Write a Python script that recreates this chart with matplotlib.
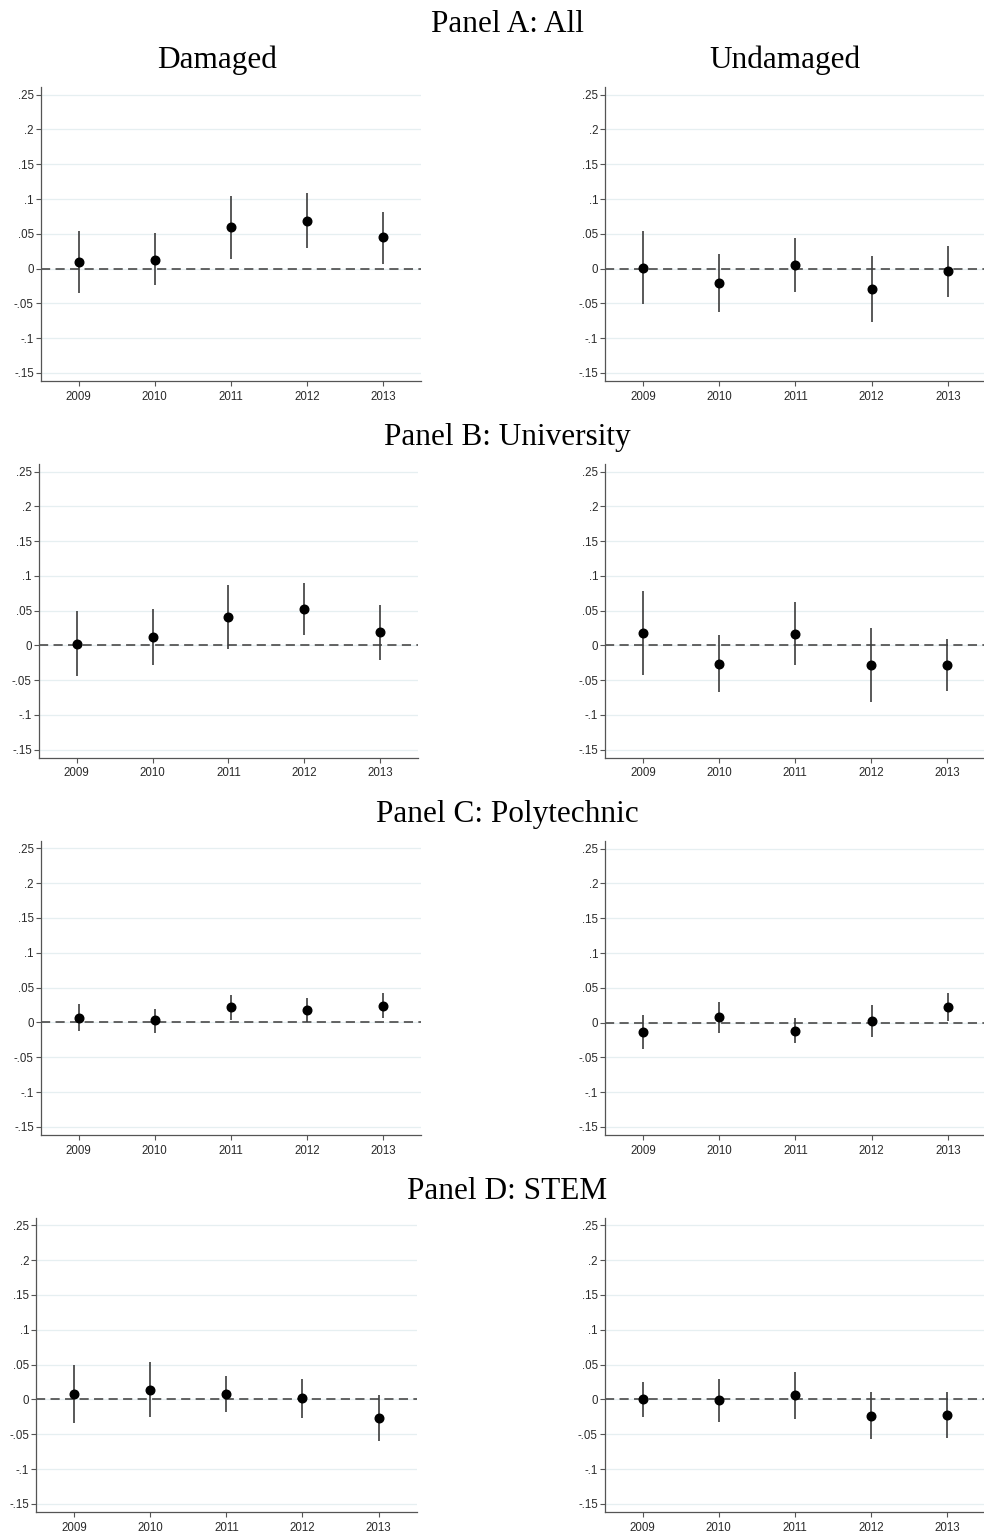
import matplotlib
matplotlib.use('Agg')
import matplotlib.pyplot as plt

# event-study coefficients with 95% confidence bounds
years = [2009, 2010, 2011, 2012, 2013]

all_dmg_b = [0.009, 0.013, 0.0595, 0.069, 0.045]
all_dmg_lo = [-0.035, -0.024, 0.014, 0.030, 0.007]
all_dmg_hi = [0.054, 0.0505, 0.104, 0.108, 0.082]

all_und_b = [0.0015, -0.021, 0.005, -0.029, -0.004]
all_und_lo = [-0.051, -0.062, -0.033, -0.076, -0.041]
all_und_hi = [0.054, 0.0205, 0.044, 0.0185, 0.033]

uni_dmg_b = [0.0024, 0.012, 0.041, 0.052, 0.019]
uni_dmg_lo = [-0.044, -0.028, -0.005, 0.015, -0.0205]
uni_dmg_hi = [0.0495, 0.052, 0.087, 0.0895, 0.058]

uni_und_b = [0.018, -0.026, 0.0167, -0.0286, -0.0286]
uni_und_lo = [-0.042, -0.0676, -0.0286, -0.0814, -0.066]
uni_und_hi = [0.0776, 0.0148, 0.0624, 0.0248, 0.009]

poly_dmg_b = [0.0067, 0.0029, 0.0219, 0.0186, 0.0243]
poly_dmg_lo = [-0.0129, -0.0148, 0.0038, 0.001, 0.0067]
poly_dmg_hi = [0.0267, 0.020, 0.040, 0.0357, 0.042]

poly_und_b = [-0.0133, 0.0076, -0.0114, 0.0019, 0.0224]
poly_und_lo = [-0.0376, -0.0143, -0.030, -0.021, 0.0029]
poly_und_hi = [0.011, 0.029, 0.0067, 0.0248, 0.042]

stem_dmg_b = [0.0076, 0.0138, 0.0081, 0.0014, -0.0262]
stem_dmg_lo = [-0.0338, -0.0248, -0.0176, -0.0267, -0.059]
stem_dmg_hi = [0.049, 0.0533, 0.0338, 0.0295, 0.0071]

stem_und_b = [0.0005, -0.001, 0.0062, -0.0233, -0.022]
stem_und_lo = [-0.0248, -0.0324, -0.0281, -0.0567, -0.0548]
stem_und_hi = [0.0257, 0.030, 0.040, 0.010, 0.0105]

panel_titles = ['Panel A: All', 'Panel B: University',
                'Panel C: Polytechnic', 'Panel D: STEM']
col_titles = ['Damaged', 'Undamaged']
yticks = [-0.15, -0.1, -0.05, 0, 0.05, 0.1, 0.15, 0.2, 0.25]
ytick_labels = ['-.15', '-.1', '-.05', '0', '.05', '.1', '.15', '.2', '.25']

W, H = 984, 1535


def main():
    fig = plt.figure(figsize=(W / 100, H / 100), dpi=100)

    panels = [
        (all_dmg_b, all_dmg_lo, all_dmg_hi), (all_und_b, all_und_lo, all_und_hi),
        (uni_dmg_b, uni_dmg_lo, uni_dmg_hi), (uni_und_b, uni_und_lo, uni_und_hi),
        (poly_dmg_b, poly_dmg_lo, poly_dmg_hi), (poly_und_b, poly_und_lo, poly_und_hi),
        (stem_dmg_b, stem_dmg_lo, stem_dmg_hi), (stem_und_b, stem_und_lo, stem_und_hi),
    ]
    # axes boxes in pixels: left, top, right, bottom
    boxes = [
        (40.7, 87, 421, 381), (605, 87, 986, 381),
        (38.7, 464, 418.2, 757.7), (605, 464, 985, 757.7),
        (40.7, 840.6, 421, 1135), (605, 841, 986, 1135),
        (36, 1217.6, 416.7, 1512), (604.7, 1217.6, 985, 1512),
    ]

    for (b, lo, hi), (l, t, r, bt) in zip(panels, boxes):
        ax = fig.add_axes([l / W, 1 - bt / H, (r - l) / W, (bt - t) / H])
        ax.set_xlim(2008.5, 2013.5)
        ax.set_ylim(-0.1615, 0.261)
        for y in yticks:
            ax.axhline(y, color='#e6eff1', lw=0.9, zorder=0)
        ax.axhline(0, color='#3a3a3a', lw=1.1, ls=(0, (6, 3.5)), zorder=1)
        ax.vlines(years, lo, hi, color='#3c3c3c', lw=1.2, zorder=2)
        ax.plot(years, b, 'o', color='black', ms=6.2, zorder=3)

        ax.set_yticks(yticks)
        ax.set_yticklabels(ytick_labels)
        ax.set_xticks(years)
        ax.set_xticklabels([str(y) for y in years])
        for s in ['top', 'right']:
            ax.spines[s].set_visible(False)
        for s in ['left', 'bottom']:
            ax.spines[s].set_color('#555555')
            ax.spines[s].set_linewidth(0.9)
        ax.tick_params(axis='both', length=3.5, width=0.8, color='#555555',
                       labelsize=8.3, labelcolor='#2a2a2a')
        ax.tick_params(axis='y', pad=1.5)
        ax.tick_params(axis='x', pad=3.5)
        for lab in ax.get_xticklabels() + ax.get_yticklabels():
            lab.set_family('Liberation Sans')

    serif = 'Liberation Serif'
    for txt, base in zip(panel_titles, [32, 445, 822, 1199]):
        fig.text(507.5 / W, 1 - base / H, txt, ha='center', va='baseline',
                 fontsize=22.5, family=serif)
    fig.text(217 / W, 1 - 68 / H, col_titles[0], ha='center', va='baseline',
             fontsize=22.5, family=serif)
    fig.text(785 / W, 1 - 68 / H, col_titles[1], ha='center', va='baseline',
             fontsize=22.5, family=serif)

    fig.savefig('out.png', dpi=100, facecolor='white')


if __name__ == "__main__":
    main()
